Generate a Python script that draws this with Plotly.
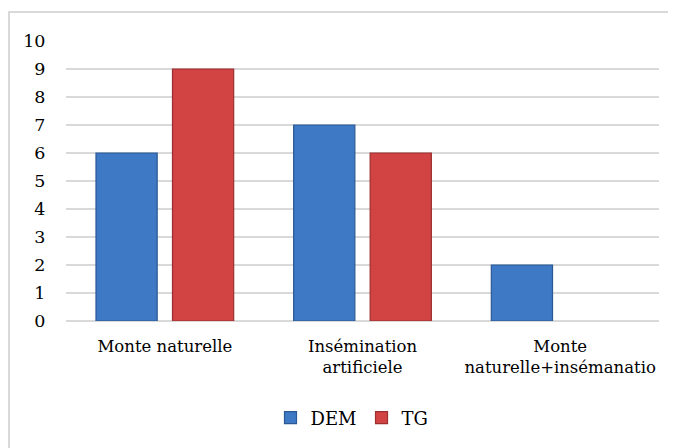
import plotly.graph_objects as go

categories = ["Monte naturelle", "Insémination<br>artificiele", "Monte<br>naturelle+insémanatio"]
dem_values = [6, 7, 2]
tg_values = [9, 6, 0]
y_ticks = list(range(0, 11))

# page has an 8px body margin; figure sized to fit inside the window
OFF = 8
W, H = 676 - OFF, 448 - OFF
px0, px1, py0, py1 = 66 - OFF, 659 - OFF, 41 - OFF, 321 - OFF
L, R, T, B = px0, W - px1, py0, H - py1
pw, ph = px1 - px0, py1 - py0

font_family = "DejaVu Serif"
fsize = 16.5

fig = go.Figure()
fig.add_trace(go.Bar(
    name="DEM", x=categories, y=dem_values,
    marker=dict(color="#3d79c4",
                line=dict(color="#2b5893", width=[1.2 if v > 0 else 0 for v in dem_values])),
))
fig.add_trace(go.Bar(
    name="TG", x=categories, y=tg_values,
    marker=dict(color="#d24343",
                line=dict(color="#9c2f2f", width=[1.2 if v > 0 else 0 for v in tg_values])),
))

# outer chart border (left and top edges visible)
bx0 = (8 - OFF - px0 + 1) / pw
by_top = 1 + (py0 - (12 - OFF)) / ph
by_bot = -(B + 20) / ph
bx1 = 1 + (R + 20) / pw

fig.update_layout(
    width=W, height=H,
    margin=dict(l=L, r=R, t=T, b=B, autoexpand=False),
    paper_bgcolor="white", plot_bgcolor="white",
    barmode="group", bargap=0.226, bargroupgap=0.2,
    font=dict(family=font_family, size=fsize, color="black"),
    showlegend=True,
    legend=dict(
        orientation="h", x=(352 - OFF - px0) / pw, xanchor="center",
        y=-(418 - OFF - py1) / ph, yanchor="middle",
        font=dict(family=font_family, size=18, color="black"),
        bgcolor="rgba(0,0,0,0)", itemwidth=30, traceorder="normal",
    ),
    shapes=[
        dict(type="path", xref="paper", yref="paper",
             path=f"M {bx0} {by_bot} L {bx0} {by_top} L {bx1} {by_top}",
             line=dict(color="#d9d9d9", width=2), layer="below"),
    ],
)

fig.update_xaxes(
    showline=False, showgrid=False, zeroline=False, automargin=False, tickangle=0,
    ticks="outside", ticklen=10, tickcolor="rgba(0,0,0,0)",
    tickfont=dict(family=font_family, size=fsize, color="black"),
)
fig.update_yaxes(
    range=[0, 10], tickvals=y_ticks, showgrid=True, automargin=False,
    gridcolor="#d9d9d9", gridwidth=2,
    zeroline=True, zerolinecolor="#d9d9d9", zerolinewidth=2,
    showline=False,
    ticks="outside", ticklen=16, tickcolor="rgba(0,0,0,0)",
    tickfont=dict(family=font_family, size=17.5, color="black"),
)

fig.write_html("out.html")
